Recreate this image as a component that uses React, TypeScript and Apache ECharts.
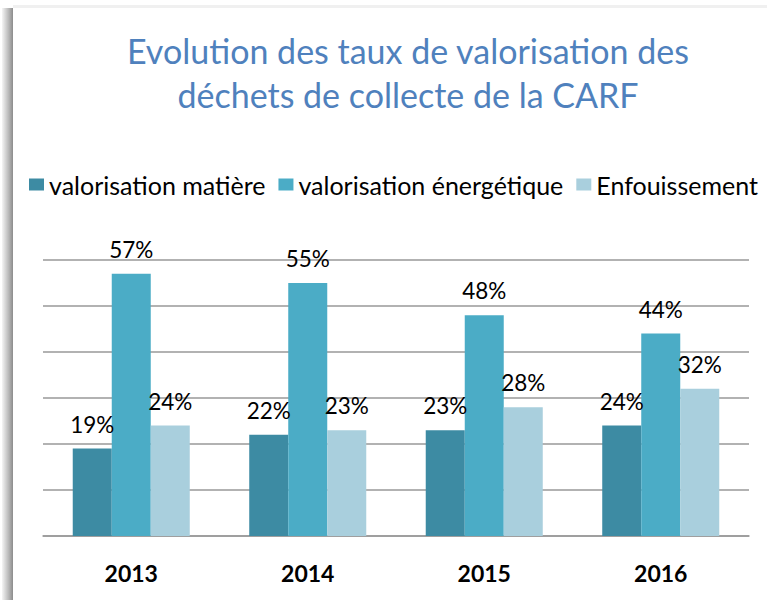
import React, { useEffect, useRef } from "react";
import * as echarts from "echarts";

const categories = ["2013", "2014", "2015", "2016"];
const seriesNames = ["valorisation matière", "valorisation énergétique", "Enfouissement"];
const matiere = [19, 22, 23, 24];
const energetique = [57, 55, 48, 44];
const enfouissement = [24, 23, 28, 32];
const colors = ["#3D8BA3", "#4BACC6", "#A9CFDD"];

const FONT = "Lato, 'Open Sans', sans-serif";

export default function App() {
  const ref = useRef<HTMLDivElement>(null);
  useEffect(() => {
    if (!ref.current) return;
    const chart = echarts.init(ref.current, undefined, { renderer: "svg" });
    const values = [matiere, energetique, enfouissement];
    chart.setOption({
      animation: false,
      backgroundColor: "#ffffff",
      textStyle: { fontFamily: FONT },
      graphic: [
        {
          type: "rect",
          shape: { x: 2, y: 8, width: 11, height: 600 },
          style: {
            fill: new echarts.graphic.LinearGradient(0, 0, 1, 0, [
              { offset: 0, color: "rgba(245,245,245,1)" },
              { offset: 0.6, color: "rgba(185,185,185,1)" },
              { offset: 1, color: "rgba(140,140,140,1)" },
            ]),
          },
          z: -1,
        },
        {
          type: "rect",
          shape: { x: 13, y: 5, width: 760, height: 3 },
          style: { fill: "#f0f0f0" },
          z: -1,
        },
      ],
      title: {
        text: "Evolution des taux de valorisation des\ndéchets de collecte de la CARF",
        left: 403,
        top: 23,
        textAlign: "center",
        textStyle: {
          color: "#4F81BD",
          fontFamily: FONT,
          fontWeight: "normal",
          fontSize: 34,
          lineHeight: 44,
        },
      },
      legend: {
        left: 24,
        top: 167,
        itemWidth: 15,
        itemHeight: 12,
        itemGap: 13,
        icon: "rect",
        textStyle: { color: "#000", fontSize: 25, fontFamily: FONT, padding: [0, 0, 0, 0] },
        data: seriesNames,
      },
      grid: { left: 43, right: 18, top: 260, bottom: 64, containLabel: false },
      xAxis: {
        type: "category",
        data: categories,
        axisLine: { show: true, lineStyle: { color: "#999", width: 1.5 } },
        axisTick: { show: false },
        axisLabel: { color: "#000", fontWeight: "bold", fontSize: 23, margin: 25, fontFamily: FONT },
      },
      yAxis: {
        type: "value",
        min: 0,
        max: 60,
        interval: 10,
        axisLabel: { show: false },
        axisLine: { show: false },
        axisTick: { show: false },
        splitLine: { lineStyle: { color: "#999", width: 1.5 } },
      },
      series: seriesNames.map((name, i) => ({
        name,
        type: "bar",
        data: values[i],
        barGap: "0%",
        barCategoryGap: "33.7%",
        itemStyle: { color: colors[i] },
        label: {
          show: true,
          position: "top",
          distance: 13,
          color: "#000",
          fontSize: 22.5,
          fontFamily: FONT,
          formatter: "{c}%",
        },
      })),
    });
    return () => chart.dispose();
  }, []);
  return (
    <div
      ref={ref}
      style={{ position: "fixed", left: 0, top: 0, width: 767, height: 600 }}
    />
  );
}
